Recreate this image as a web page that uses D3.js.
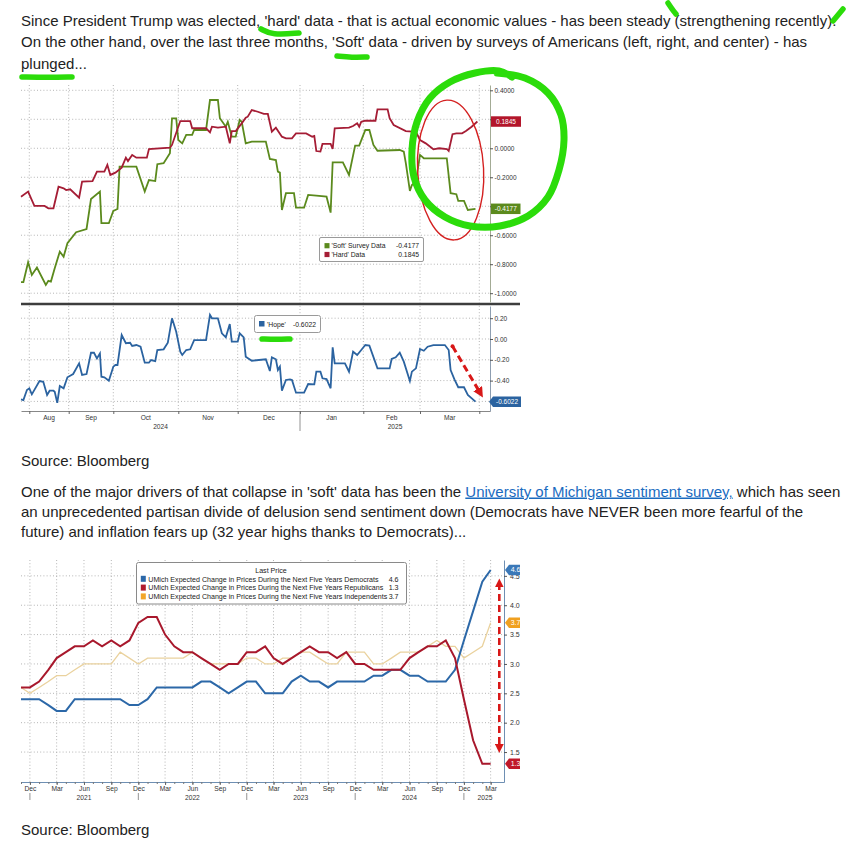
<!DOCTYPE html>
<html><head><meta charset="utf-8">
<script src="https://cdn.jsdelivr.net/npm/d3@7"></script>
<style>body{margin:0;background:#fff}svg{display:block}</style>
</head><body>
<svg id="c" width="867" height="847"></svg>
<script>
// ---------------- DATA ----------------
const paragraph1 = [
  "Since President Trump was elected, 'hard' data - that is actual economic values - has been steady (strengthening recently).",
  "On the other hand, over the last three months, 'Soft' data - driven by surveys of Americans (left, right, and center) - has",
  "plunged..."
];
const sourceText = "Source: Bloomberg";
const paragraph2Line1 = ["One of the major drivers of that collapse in 'soft' data has been the ", "University of Michigan sentiment survey,", " which has seen"];
const paragraph2 = [
  "an unprecedented partisan divide of delusion send sentiment down (Democrats have NEVER been more fearful of the",
  "future) and inflation fears up (32 year highs thanks to Democrats)..."
];

// Chart 1 — 'Soft' survey data, 'Hard' data, 'Hope'
const softData = [["2024-07-25",-0.924],["2024-07-27",-0.924],["2024-07-31",-0.786],["2024-08-03",-0.874],["2024-08-07",-0.823],["2024-08-14",-0.943],["2024-08-16",-0.915],["2024-08-18",-0.92],["2024-08-21",-0.828],["2024-08-25",-0.713],["2024-08-28",-0.748],["2024-08-31",-0.655],["2024-09-06",-0.579],["2024-09-13",-0.557],["2024-09-16",-0.35],["2024-09-22",-0.299],["2024-09-23",-0.517],["2024-09-28",-0.517],["2024-10-01",-0.432],["2024-10-03",-0.419],["2024-10-04",-0.127],["2024-10-12",-0.127],["2024-10-16",-0.299],["2024-10-18",-0.219],["2024-10-21",-0.226],["2024-10-22",-0.11],["2024-10-25",-0.103],["2024-10-28",-0.034],["2024-10-29",0.207],["2024-10-31",0.207],["2024-11-01",0.057],["2024-11-03",0.034],["2024-11-05",0.092],["2024-11-08",0.092],["2024-11-09",0.126],["2024-11-15",0.126],["2024-11-17",0.333],["2024-11-21",0.333],["2024-11-22",0.207],["2024-11-25",0.149],["2024-11-26",0.183],["2024-11-28",0.08],["2024-11-30",0.08],["2024-12-02",0.195],["2024-12-03",0.183],["2024-12-05",0.034],["2024-12-08",0.046],["2024-12-15",0.046],["2024-12-17",-0.074],["2024-12-20",-0.081],["2024-12-21",-0.161],["2024-12-22",-0.168],["2024-12-23",-0.426],["2024-12-25",-0.31],["2024-12-29",-0.31],["2024-12-30",-0.41],["2025-01-03",-0.41],["2025-01-05",-0.322],["2025-01-09",-0.327],["2025-01-14",-0.334],["2025-01-16",-0.444],["2025-01-17",-0.097],["2025-01-22",-0.097],["2025-01-25",-0.184],["2025-01-28",0.018],["2025-01-30",0.018],["2025-02-02",0.126],["2025-02-04",0.126],["2025-02-06",0.023],["2025-02-08",-0.017],["2025-02-19",-0.012],["2025-02-21",-0.023],["2025-02-22",-0.103],["2025-02-24",-0.294],["2025-02-25",-0.253],["2025-02-27",-0.23],["2025-03-01",-0.046],["2025-03-03",-0.069],["2025-03-15",-0.069],["2025-03-17",-0.31],["2025-03-20",-0.317],["2025-03-21",-0.363],["2025-03-24",-0.363],["2025-03-26",-0.426],["2025-03-30",-0.4177]];
const hardData = [["2024-07-25",-0.334],["2024-07-31",-0.299],["2024-08-05",-0.398],["2024-08-13",-0.398],["2024-08-16",-0.414],["2024-08-20",-0.414],["2024-08-24",-0.265],["2024-08-28",-0.276],["2024-08-30",-0.288],["2024-09-02",-0.283],["2024-09-08",-0.341],["2024-09-10",-0.23],["2024-09-17",-0.226],["2024-09-20",-0.161],["2024-09-25",-0.161],["2024-09-27",-0.115],["2024-09-29",-0.184],["2024-10-02",-0.168],["2024-10-05",-0.134],["2024-10-07",-0.065],["2024-10-08",-0.088],["2024-10-10",-0.046],["2024-10-12",-0.065],["2024-10-17",-0.065],["2024-10-18",-0.005],["2024-10-28",0.004],["2024-10-29",0.023],["2024-11-02",0.188],["2024-11-07",0.188],["2024-11-08",0.138],["2024-11-15",0.138],["2024-11-17",0.11],["2024-11-18",0.149],["2024-11-21",0.142],["2024-11-25",0.149],["2024-11-27",0.034],["2024-11-28",0.119],["2024-11-30",0.119],["2024-12-03",0.172],["2024-12-05",0.211],["2024-12-06",0.218],["2024-12-08",0.264],["2024-12-11",0.252],["2024-12-14",0.237],["2024-12-16",0.237],["2024-12-18",0.114],["2024-12-20",0.142],["2024-12-23",0.08],["2024-12-25",0.069],["2024-12-28",0.069],["2024-12-30",0.103],["2025-01-04",0.103],["2025-01-07",0.08],["2025-01-08",0.085],["2025-01-09",-0.019],["2025-01-11",-0.023],["2025-01-12",0.03],["2025-01-16",0.03],["2025-01-17",-0.005],["2025-01-18",0.138],["2025-01-25",0.142],["2025-01-27",0.154],["2025-01-29",0.172],["2025-01-30",0.149],["2025-01-31",0.183],["2025-02-02",0.19],["2025-02-07",0.19],["2025-02-08",0.269],["2025-02-13",0.269],["2025-02-14",0.207],["2025-02-16",0.161],["2025-02-22",0.119],["2025-02-27",0.114],["2025-03-01",0.057],["2025-03-04",0.034],["2025-03-08",-0.007],["2025-03-11",0],["2025-03-15",-0.005],["2025-03-16",-0.019],["2025-03-18",0.097],["2025-03-20",0.103],["2025-03-23",0.103],["2025-03-25",0.119],["2025-03-28",0.149],["2025-03-31",0.1845]];
const hopeData = [["2024-07-25",-0.58],["2024-07-27",-0.587],["2024-07-30",-0.49],["2024-08-01",-0.474],["2024-08-03",-0.532],["2024-08-09",-0.404],["2024-08-12",-0.411],["2024-08-15",-0.538],["2024-08-17",-0.497],["2024-08-20",-0.497],["2024-08-21",-0.507],["2024-08-23",-0.613],["2024-08-25",-0.452],["2024-08-28",-0.474],["2024-08-31",-0.368],["2024-09-04",-0.337],["2024-09-08",-0.234],["2024-09-10",-0.346],["2024-09-13",-0.337],["2024-09-16",-0.132],["2024-09-18",-0.132],["2024-09-20",-0.186],["2024-09-22",-0.138],["2024-09-23",-0.363],["2024-09-25",-0.368],["2024-09-28",-0.401],["2024-10-01",-0.266],["2024-10-02",-0.25],["2024-10-03",-0.25],["2024-10-05",0.038],["2024-10-07",-0.041],["2024-10-09",-0.036],["2024-10-10",-0.067],["2024-10-12",-0.058],["2024-10-14",-0.074],["2024-10-16",-0.228],["2024-10-18",-0.228],["2024-10-19",-0.202],["2024-10-21",-0.212],["2024-10-22",-0.106],["2024-10-25",-0.099],["2024-10-27",-0.036],["2024-10-29",0.199],["2024-10-31",0.07],["2024-11-02",-0.122],["2024-11-03",-0.154],["2024-11-05",-0.106],["2024-11-07",-0.099],["2024-11-09",-0.01],["2024-11-15",-0.01],["2024-11-17",0.231],["2024-11-18",0.199],["2024-11-21",0.199],["2024-11-23",0.055],["2024-11-25",0.016],["2024-11-27",0.144],["2024-11-28",-0.026],["2024-12-01",-0.026],["2024-12-02",0.055],["2024-12-04",0.016],["2024-12-05",-0.17],["2024-12-08",-0.209],["2024-12-15",-0.195],["2024-12-17",-0.308],["2024-12-18",-0.176],["2024-12-20",-0.195],["2024-12-21",-0.298],["2024-12-22",-0.266],["2024-12-23",-0.497],["2024-12-25",-0.394],["2024-12-27",-0.388],["2024-12-28",-0.394],["2024-12-30",-0.516],["2025-01-03",-0.516],["2025-01-05",-0.433],["2025-01-08",-0.436],["2025-01-09",-0.314],["2025-01-11",-0.314],["2025-01-12",-0.378],["2025-01-14",-0.385],["2025-01-16",-0.474],["2025-01-17",-0.08],["2025-01-18",-0.234],["2025-01-23",-0.234],["2025-01-25",-0.314],["2025-01-27",-0.122],["2025-01-29",-0.154],["2025-01-31",-0.106],["2025-02-02",-0.058],["2025-02-04",-0.064],["2025-02-08",-0.282],["2025-02-14",-0.282],["2025-02-15",-0.192],["2025-02-17",-0.176],["2025-02-19",-0.132],["2025-02-21",-0.218],["2025-02-24",-0.404],["2025-02-25",-0.314],["2025-02-27",-0.282],["2025-03-01",-0.096],["2025-03-03",-0.113],["2025-03-05",-0.074],["2025-03-08",-0.058],["2025-03-14",-0.058],["2025-03-16",-0.106],["2025-03-17",-0.298],["2025-03-19",-0.388],["2025-03-21",-0.464],["2025-03-24",-0.464],["2025-03-26",-0.538],["2025-03-30",-0.6022]];
const topTicks = [0.4, 0.2, 0, -0.2, -0.4, -0.6, -0.8, -1.0];
const topTicksCovered = [0.2, -0.4];      // labels hidden under the last-value tags
const bottomTicks = [0.2, 0, -0.2, -0.4, -0.6];
const bottomTicksCovered = [-0.6];
const chart1Months = ["2024-08-01","2024-09-01","2024-10-01","2024-11-01","2024-12-01","2025-01-01","2025-02-01","2025-03-01","2025-04-01"];
const chart1YearLabels = [["2024","2024-07-25","2025-01-01"],["2025","2025-01-01","2025-04-06"]];
const chart1Legend = [["'Soft' Survey Data","-0.4177","soft"],["'Hard' Data","0.1845","hard"]];
const hopeLegend = ["'Hope'","-0.6022"];

// Chart 2 — UMich expected change in prices, next five years (monthly, Nov 2020 – Mar 2025)
const umichStart = "2020-11-01";
const demValues = [2.4,2.4,2.4,2.3,2.2,2.2,2.4,2.4,2.4,2.4,2.4,2.4,2.3,2.3,2.4,2.6,2.6,2.6,2.6,2.6,2.7,2.7,2.6,2.5,2.6,2.7,2.7,2.5,2.5,2.5,2.7,2.8,2.7,2.7,2.6,2.7,2.7,2.7,2.7,2.8,2.8,2.9,2.9,2.8,2.8,2.7,2.7,2.7,2.9,3.4,3.9,4.4,4.6];
const repValues = [2.6,2.6,2.7,2.9,3.1,3.2,3.3,3.3,3.4,3.3,3.4,3.3,3.4,3.7,3.8,3.8,3.5,3.3,3.2,3.2,3.1,3.0,2.9,3.0,3.0,3.2,3.2,3.3,3.1,3.0,3.1,3.2,3.3,3.2,3.2,3.1,3.2,3.0,3.0,2.9,2.9,2.9,2.9,3.1,3.2,3.3,3.3,3.4,3.1,2.4,1.7,1.3,1.3];
const indValues = [2.6,2.5,2.6,2.7,2.8,2.8,2.9,3.0,3.0,3.0,3.0,3.2,3.1,3.0,3.1,3.1,3.1,3.1,3.1,3.2,3.1,3.0,3.0,3.0,3.0,3.1,3.1,3.0,3.0,3.1,3.1,3.2,3.2,3.1,3.0,3.0,3.2,3.2,3.2,3.0,3.0,3.1,3.2,3.2,3.2,3.3,3.4,3.3,3.3,3.1,3.2,3.3,3.7];
const umichSeries = [
  ["UMich Expected Change in Prices During the Next Five Years Democrats", demValues, "4.6", "dem"],
  ["UMich Expected Change in Prices During the Next Five Years Republicans", repValues, "1.3", "rep"],
  ["UMich Expected Change in Prices During the Next Five Years Independents", indValues, "3.7", "ind"]
];
const umichTicks = [1.5, 2.0, 2.5, 3.0, 3.5, 4.0, 4.5];
const umichYearLabels = [["2021","2021-06-01"],["2022","2022-06-01"],["2023","2023-06-01"],["2024","2024-06-01"],["2025","2025-02-10"]];

// ---------------- STYLES ----------------
const FONT = "'Liberation Sans', Arial, sans-serif";
const col = {soft:"#5b8a1d", hard:"#a51d35", hope:"#2b63a0",
             dem:"#2c68a8", rep:"#a8182c", ind:"#ead29e",
             demSq:"#2c68a8", repSq:"#b01a2c", indSq:"#f2a62a",
             grid:"#b5b5b5", txt:"#222", axis:"#333", green:"#2bdc0a", red:"#d81818"};

const svg = d3.select("#c");
const parse = d3.timeParse("%Y-%m-%d");

// ---------------- TEXT ----------------
const tg = svg.append("g").attr("font-family", FONT).attr("font-size", 15).attr("fill", col.txt);
paragraph1.forEach((t, i) => tg.append("text").attr("x", 21).attr("y", 26 + i * 21.3).text(t));
tg.append("text").attr("x", 21).attr("y", 465.5).text(sourceText);
const l1 = tg.append("text").attr("x", 21).attr("y", 496.5);
l1.append("tspan").text(paragraph2Line1[0]);
l1.append("tspan").attr("fill", "#1a6bbf").attr("text-decoration", "underline").text(paragraph2Line1[1]);
l1.append("tspan").text(paragraph2Line1[2]);
paragraph2.forEach((t, i) => tg.append("text").attr("x", 21).attr("y", 516.5 + i * 20).text(t));
tg.append("text").attr("x", 21).attr("y", 834.5).text(sourceText);

// ---------------- CHART 1 ----------------
const c1 = svg.append("g").attr("font-family", FONT);
const x1 = d3.scaleTime()
  .domain(["2024-07-25","2024-08-01","2024-09-01","2024-10-01","2024-11-01","2024-12-01","2025-01-01","2025-02-01","2025-03-01","2025-04-01","2025-04-06"].map(parse))
  .range([21, 29.3, 68.7, 113.3, 178.3, 237.7, 300, 363.3, 420, 479.3, 490]);
const yTop = d3.scaleLinear().domain([-1.0607, 0.4366]).range([302, 85]);
const yBot = d3.scaleLinear().domain([-0.6923, 0.3173]).range([411, 306]);
const monthDates = chart1Months.map(parse);

// gridlines
const g1 = c1.append("g").attr("stroke", col.grid).attr("stroke-dasharray", "1,2.2").attr("stroke-width", 1);
monthDates.forEach(d => g1.append("line").attr("x1", x1(d)).attr("x2", x1(d)).attr("y1", 85).attr("y2", 411));
topTicks.forEach(v => g1.append("line").attr("x1", 21).attr("x2", 490).attr("y1", yTop(v)).attr("y2", yTop(v)));
bottomTicks.forEach(v => g1.append("line").attr("x1", 21).attr("x2", 490).attr("y1", yBot(v)).attr("y2", yBot(v)));

// lines
const lineTop = d3.line().x(d => x1(parse(d[0]))).y(d => yTop(d[1]));
const lineBot = d3.line().x(d => x1(parse(d[0]))).y(d => yBot(d[1]));
c1.append("path").datum(softData).attr("d", lineTop).attr("fill", "none").attr("stroke", col.soft).attr("stroke-width", 1.8);
c1.append("path").datum(hardData).attr("d", lineTop).attr("fill", "none").attr("stroke", col.hard).attr("stroke-width", 1.8);
c1.append("path").datum(hopeData).attr("d", lineBot).attr("fill", "none").attr("stroke", col.hope).attr("stroke-width", 1.8);

// separator
c1.append("line").attr("x1", 21).attr("x2", 520).attr("y1", 304).attr("y2", 304).attr("stroke", "#3d3d3d").attr("stroke-width", 2.6);

// right axes
const fmt4 = v => topTicksCovered.includes(v) ? "" : d3.format(".4f")(v).replace("\u2212", "-");
const fmt2 = v => bottomTicksCovered.includes(v) ? "" : d3.format(".2f")(v).replace("\u2212", "-");
function styleAxis(sel, color, fs) {
  sel.select(".domain").attr("stroke", color);
  sel.selectAll(".tick line").attr("stroke", "#555");
  sel.selectAll(".tick text").attr("fill", col.axis).attr("font-size", fs).attr("font-family", FONT);
}
const aT = c1.append("g").attr("transform", "translate(490,0)")
  .call(d3.axisRight(yTop).tickValues(topTicks).tickSize(3).tickSizeOuter(0).tickPadding(1.5).tickFormat(fmt4));
styleAxis(aT, "#a3ab95", 6.5);
const aB = c1.append("g").attr("transform", "translate(490,0)")
  .call(d3.axisRight(yBot).tickValues(bottomTicks).tickSize(3).tickSizeOuter(0).tickPadding(1.5).tickFormat(fmt2));
styleAxis(aB, "#8d9db0", 6.5);

// bottom axis
const aX = c1.append("g").attr("transform", "translate(0,411)")
  .call(d3.axisBottom(x1).tickValues(monthDates).tickSize(3).tickSizeOuter(0).tickFormat(""));
aX.select(".domain").attr("stroke", "#888");
aX.selectAll(".tick line").attr("stroke", "#666");
const monthFmt = d3.timeFormat("%b");
monthDates.slice(0, -1).forEach((d, i) => {
  const mid = (x1(d) + x1(monthDates[i + 1])) / 2;
  c1.append("text").attr("x", mid).attr("y", 419.8).attr("text-anchor", "middle")
    .attr("font-size", 6.6).attr("fill", col.axis).text(monthFmt(d));
});
chart1YearLabels.forEach(([t, a, b]) => {
  c1.append("text").attr("x", (x1(parse(a)) + x1(parse(b))) / 2).attr("y", 428.5).attr("text-anchor", "middle")
    .attr("font-size", 6.6).attr("fill", col.axis).text(t);
});
c1.append("line").attr("x1", x1(parse("2025-01-01"))).attr("x2", x1(parse("2025-01-01")))
  .attr("y1", 411).attr("y2", 431).attr("stroke", "#777").attr("stroke-width", 0.8);

// legends
const lg = c1.append("g");
lg.append("rect").attr("x", 319.5).attr("y", 237.5).attr("width", 104).attr("height", 24).attr("rx", 1.5)
  .attr("fill", "#fff").attr("stroke", "#9a9a9a");
chart1Legend.forEach(([name, val, k], i) => {
  const yb = 248.3 + i * 8.8;
  lg.append("rect").attr("x", 324.5).attr("y", yb - 5.2).attr("width", 5).attr("height", 5.2).attr("fill", col[k]);
  lg.append("text").attr("x", 331.5).attr("y", yb).attr("font-size", 6.8).attr("fill", col.txt).text(name);
  lg.append("text").attr("x", 419).attr("y", yb).attr("font-size", 6.8).attr("text-anchor", "end").attr("fill", col.txt).text(val);
});
lg.append("rect").attr("x", 254.5).attr("y", 315.5).attr("width", 66).attr("height", 17).attr("rx", 2)
  .attr("fill", "#fff").attr("stroke", "#9a9a9a");
lg.append("rect").attr("x", 259).attr("y", 321).attr("width", 5.5).attr("height", 5.5).attr("fill", col.hope);
lg.append("text").attr("x", 267).attr("y", 326.5).attr("font-size", 6.8).attr("fill", col.txt).text(hopeLegend[0]);
lg.append("text").attr("x", 316).attr("y", 326.5).attr("font-size", 6.8).attr("text-anchor", "end").attr("fill", col.txt).text(hopeLegend[1]);

// value tags
function tag(g, x, y, w, color, label, arrow, fs) {
  const h = 10.5;
  const p = arrow
    ? `M${x},${y} L${x + 4},${y - h / 2} L${x + w},${y - h / 2} L${x + w},${y + h / 2} L${x + 4},${y + h / 2} Z`
    : `M${x},${y - h / 2} L${x + w},${y - h / 2} L${x + w},${y + h / 2} L${x},${y + h / 2} Z`;
  g.append("path").attr("d", p).attr("fill", color);
  g.append("text").attr("x", x + (arrow ? 4 : 0) + (w - (arrow ? 4 : 0)) / 2).attr("y", y + 2.3)
    .attr("text-anchor", "middle").attr("font-size", fs).attr("fill", "#fff").text(label);
}
tag(c1, 491, yTop(0.1845), 30, "#b3162b", "0.1845", false, 6.5);
tag(c1, 491, yTop(-0.4177), 29.5, col.soft, "-0.4177", false, 6.5);
tag(c1, 489, yBot(-0.6022), 32, col.hope, "-0.6022", true, 6.5);

// ---------------- CHART 2 ----------------
const c2 = svg.append("g").attr("font-family", FONT);
svg.append("clipPath").attr("id", "clip2").append("rect").attr("x", 0).attr("y", 540).attr("width", 520).attr("height", 280);
c2.attr("clip-path", "url(#clip2)");
const months2 = d3.range(demValues.length).map(i => d3.timeMonth.offset(parse(umichStart), i));
const x2 = d3.scaleTime().domain([parse("2020-11-01"), parse("2025-04-15")]).range([21, 504]);
const y2 = d3.scaleLinear().domain([0.99, 4.77]).range([782, 560]);
const quarters = months2.filter(d => d.getMonth() % 3 === 2);

const g2 = c2.append("g").attr("stroke", col.grid).attr("stroke-dasharray", "1,2.2");
quarters.forEach(d => g2.append("line").attr("x1", x2(d)).attr("x2", x2(d)).attr("y1", 560).attr("y2", 782));
umichTicks.forEach(v => g2.append("line").attr("x1", 21).attr("x2", 504).attr("y1", y2(v)).attr("y2", y2(v)));

const line2 = d3.line().x((d, i) => x2(months2[i])).y(d => y2(d));
c2.append("path").datum(indValues).attr("d", line2).attr("fill", "none").attr("stroke", col.ind).attr("stroke-width", 1.3);
c2.append("path").datum(demValues).attr("d", line2).attr("fill", "none").attr("stroke", col.dem).attr("stroke-width", 2);
c2.append("path").datum(repValues).attr("d", line2).attr("fill", "none").attr("stroke", col.rep).attr("stroke-width", 2);

// axes
const aY2 = c2.append("g").attr("transform", "translate(504,0)")
  .call(d3.axisRight(y2).tickValues(umichTicks).tickSize(3).tickSizeOuter(0).tickPadding(3).tickFormat(d3.format(".1f")));
styleAxis(aY2, "#6e8fb3", 7);
const aXm = c2.append("g").attr("transform", "translate(0,782)")
  .call(d3.axisBottom(x2).tickValues(months2).tickSize(2).tickSizeOuter(0).tickFormat(""));
aXm.select(".domain").attr("stroke", "#6e8fb3");
aXm.selectAll(".tick line").attr("stroke", "#777");
const aXq = c2.append("g").attr("transform", "translate(0,782)")
  .call(d3.axisBottom(x2).tickValues(quarters).tickSize(3).tickPadding(1.5).tickFormat(d3.timeFormat("%b")));
aXq.select(".domain").remove();
aXq.selectAll(".tick line").attr("stroke", "#666");
aXq.selectAll(".tick text").attr("font-size", 6.7).attr("fill", col.axis).attr("font-family", FONT);
quarters.filter(d => d.getMonth() === 11).forEach(d =>
  c2.append("line").attr("x1", x2(d)).attr("x2", x2(d)).attr("y1", 793).attr("y2", 800).attr("stroke", "#777").attr("stroke-width", 0.8));
umichYearLabels.forEach(([t, d]) =>
  c2.append("text").attr("x", x2(parse(d))).attr("y", 799.5).attr("text-anchor", "middle").attr("font-size", 6.7).attr("fill", col.axis).text(t));

// legend
const lg2 = c2.append("g");
lg2.append("rect").attr("x", 136.5).attr("y", 562.5).attr("width", 270).attr("height", 41.5).attr("rx", 2)
  .attr("fill", "#fff").attr("stroke", "#8a8a8a");
lg2.append("text").attr("x", 271).attr("y", 573.2).attr("text-anchor", "middle").attr("font-size", 7.1).attr("fill", col.txt).text("Last Price");
umichSeries.forEach(([name, vals, last, k], i) => {
  const yb = 581.6 + i * 8.8;
  lg2.append("rect").attr("x", 140.8).attr("y", yb - 5.8).attr("width", 5).attr("height", 6).attr("fill", col[k + "Sq"]);
  lg2.append("text").attr("x", 148.3).attr("y", yb).attr("font-size", 7.1).attr("fill", col.txt).text(name);
  lg2.append("text").attr("x", 398.5).attr("y", yb).attr("font-size", 7.1).attr("text-anchor", "end").attr("fill", col.txt).text(last);
});

// value tags chart 2
tag(c2, 505, y2(4.6), 17, "#3a78b8", "4.6", true, 7);
tag(c2, 505, y2(3.7), 17, "#f0a020", "3.7", true, 7);
tag(c2, 505, y2(1.3), 17, "#c0182a", "1.3", true, 7);

// ---------------- ANNOTATIONS ----------------
const an = svg.append("g");
// red ellipse around recent moves
an.append("ellipse").attr("cx", x1(parse("2025-03-17"))).attr("cy", yTop(-0.15)).attr("rx", 33).attr("ry", 70)
  .attr("transform", `rotate(-3 ${x1(parse("2025-03-17"))} ${yTop(-0.15)})`)
  .attr("fill", "none").attr("stroke", "#d42020").attr("stroke-width", 1.4);
// big green circle
const circlePts = [[497,73],[525,78],[548,93],[561,115],[564,140],[559,170],[548,197],[528,216],[500,226],[470,226],[445,217],[425,200],[414,177],[412,150],[417,122],[430,98],[450,82],[475,73],[499,71],[512,77]];
an.append("path").attr("d", d3.line().curve(d3.curveCatmullRom)(circlePts))
  .attr("fill", "none").attr("stroke", col.green).attr("stroke-width", 7).attr("stroke-linecap", "round");
const strokes = [
  [[261,29],[272,35],[299,33]],
  [[337,56],[352,57.5],[367,57]],
  [[22,77],[48,77.5],[72,77]],
  [[668,3],[672,9],[676,14]],
  [[843,9],[838,15],[833,21]],
  [[262,339],[276,339.5],[290,339]]
];
strokes.forEach(p => an.append("path").attr("d", d3.line().curve(d3.curveBasis)(p))
  .attr("fill", "none").attr("stroke", col.green).attr("stroke-width", 5.5).attr("stroke-linecap", "round"));

// red dashed arrows
const defs = svg.append("defs");
defs.append("marker").attr("id", "ah").attr("viewBox", "0 0 10 10").attr("refX", 5).attr("refY", 5)
  .attr("markerWidth", 3.4).attr("markerHeight", 3.4).attr("orient", "auto-start-reverse")
  .append("path").attr("d", "M0,0 L10,5 L0,10 Z").attr("fill", col.red);
an.append("line").attr("x1", x1(parse("2025-03-18"))).attr("y1", yBot(-0.07))
  .attr("x2", x1(parse("2025-04-01")) + 1).attr("y2", yBot(-0.52))
  .attr("stroke", col.red).attr("stroke-width", 3).attr("stroke-dasharray", "7,4").attr("marker-end", "url(#ah)");
an.append("circle").attr("cx", x1(parse("2025-03-18"))).attr("cy", yBot(-0.07)).attr("r", 2).attr("fill", col.red);
an.append("line").attr("x1", 499.3).attr("x2", 499.3).attr("y1", y2(4.38)).attr("y2", y2(1.56))
  .attr("stroke", col.red).attr("stroke-width", 2.6).attr("stroke-dasharray", "7,4")
  .attr("marker-start", "url(#ah)").attr("marker-end", "url(#ah)");
</script>
</body></html>
